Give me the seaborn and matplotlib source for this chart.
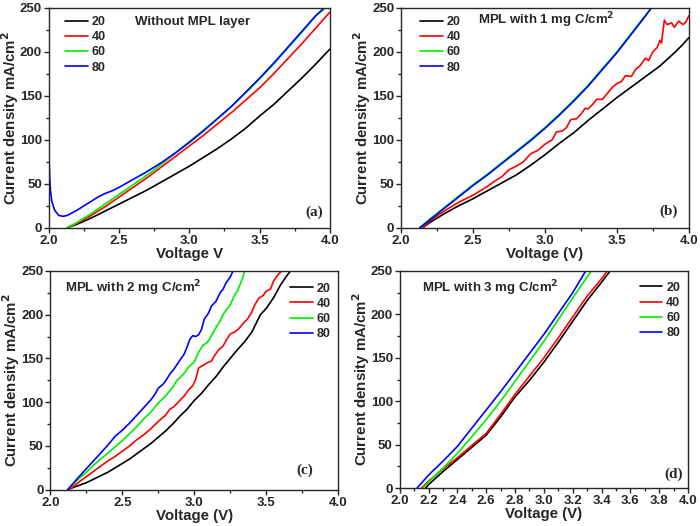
import matplotlib
matplotlib.use("Agg")
import matplotlib.pyplot as plt
import matplotlib.ticker as mticker
import numpy as np
import pandas as pd
import seaborn as sns

# ---------------------------------------------------------------------------
# Data (voltage V, current density mA/cm2)
# ---------------------------------------------------------------------------
series_labels = ["20", "40", "60", "80"]

# (a) without MPL layer
a_v20 = [2.13, 2.2, 2.3, 2.4, 2.5, 2.6, 2.7, 2.8, 2.9, 3.0, 3.1, 3.2, 3.3, 3.4, 3.5, 3.6, 3.7, 3.8, 3.9, 4.0]
a_j20 = [0, 4, 11, 19, 27, 35, 43, 52, 61, 70, 80, 90, 101, 113, 127, 140, 155, 170, 186, 203]
a_v40 = [2.13, 2.2, 2.3, 2.4, 2.5, 2.6, 2.7, 2.8, 2.9, 3.0, 3.1, 3.2, 3.3, 3.4, 3.5, 3.6, 3.7, 3.8, 3.9, 4.0]
a_j40 = [0, 5, 14, 24, 35, 46, 57, 69, 81, 93, 105, 118, 131, 145, 159, 175, 192, 209, 227, 245]
a_v60 = [2.13, 2.2, 2.3, 2.4, 2.5, 2.6, 2.7, 2.8, 2.9, 3.0, 3.1, 3.2, 3.3, 3.4, 3.5, 3.6, 3.7, 3.8, 3.9, 3.97]
a_j60 = [0, 6, 16, 27, 38, 49, 60, 72, 85, 98, 111, 124, 138, 153, 169, 186, 204, 222, 241, 250]
a_v80 = [2.0, 2.005, 2.01, 2.02, 2.04, 2.07, 2.1, 2.13, 2.2, 2.3, 2.35, 2.4, 2.45, 2.5, 2.6, 2.7,
         2.8, 2.9, 3.0, 3.1, 3.2, 3.3, 3.4, 3.5, 3.6, 3.7, 3.8, 3.9, 3.96]
a_j80 = [83, 58, 43, 30, 20, 14, 13, 14, 20, 30, 35, 39, 42, 46, 55, 64,
         74, 85, 97, 110, 124, 138, 154, 170, 187, 205, 223, 241, 250]

# (b) MPL with 1 mg C/cm2
b_v20 = [2.15, 2.2, 2.3, 2.4, 2.5, 2.6, 2.7, 2.8, 2.9, 3.0, 3.1, 3.2, 3.3, 3.4, 3.5, 3.6, 3.7, 3.8, 3.9, 3.95, 4.0]
b_j20 = [0, 6, 16, 25, 33, 42, 51, 60, 71, 83, 96, 108, 122, 135, 148, 160, 172, 184, 199, 207, 216]
b_v40 = [2.15, 2.2, 2.3, 2.4, 2.5, 2.55, 2.6, 2.65, 2.7, 2.75, 2.8, 2.85, 2.9, 2.95, 3.0, 3.05, 3.08,
         3.12, 3.15, 3.18, 3.22, 3.25, 3.28, 3.3, 3.33, 3.36, 3.4, 3.43, 3.47, 3.5, 3.53, 3.56, 3.6,
         3.63, 3.66, 3.7, 3.72, 3.75, 3.78, 3.8, 3.81, 3.83, 3.85, 3.88, 3.9, 3.93, 3.96, 3.98, 4.0]
b_j40 = [0, 8, 19, 29, 37, 42, 47, 53, 58, 66, 70, 75, 84, 88, 95, 100, 109,
         110, 114, 123, 124, 129, 136, 135, 140, 146, 146, 152, 160, 164, 166, 173, 172,
         180, 184, 193, 190, 200, 205, 213, 210, 236, 231, 233, 228, 235, 231, 234, 241]
b_v60 = [2.13, 2.2, 2.3, 2.4, 2.5, 2.6, 2.7, 2.8, 2.9, 3.0, 3.1, 3.2, 3.3, 3.4, 3.5, 3.6, 3.7, 3.74]
b_j60 = [0, 10, 23, 36, 49, 61, 74, 87, 100, 114, 129, 145, 162, 181, 200, 221, 242, 250]
b_v80 = [2.13, 2.2, 2.3, 2.4, 2.5, 2.6, 2.7, 2.8, 2.9, 3.0, 3.1, 3.2, 3.3, 3.4, 3.5, 3.6, 3.7, 3.74]
b_j80 = [0, 9, 22, 35, 48, 60, 73, 86, 99, 113, 128, 144, 161, 180, 199, 220, 241, 250]

# (c) MPL with 2 mg C/cm2
c_v20 = [2.12, 2.15, 2.2, 2.25, 2.3, 2.35, 2.4, 2.45, 2.5, 2.55, 2.6, 2.65, 2.7, 2.75, 2.8, 2.85,
         2.9, 2.95, 3.0, 3.05, 3.1, 3.15, 3.2, 3.25, 3.3, 3.35, 3.4, 3.46, 3.5, 3.55, 3.6, 3.65, 3.67]
c_j20 = [0, 2, 5, 8, 12, 16, 20, 25, 30, 35, 41, 47, 53, 60, 67, 75,
         84, 92, 102, 110, 120, 129, 140, 150, 160, 169, 180, 200, 207, 219, 234, 246, 250]
c_v40 = [2.13, 2.2, 2.25, 2.3, 2.35, 2.4, 2.45, 2.5, 2.55, 2.6, 2.65, 2.7, 2.75, 2.8, 2.83, 2.86,
         2.9, 2.93, 2.96, 2.99, 3.01, 3.03, 3.06, 3.09, 3.12, 3.14, 3.17, 3.2, 3.22, 3.25, 3.28,
         3.31, 3.34, 3.37, 3.4, 3.42, 3.45, 3.48, 3.5, 3.53, 3.55, 3.57, 3.59, 3.61]
c_j40 = [0, 9, 15, 21, 27, 33, 38, 44, 50, 57, 63, 70, 78, 85, 92, 95,
         102, 107, 114, 119, 126, 139, 142, 145, 147, 153, 160, 164, 170, 178, 180,
         184, 190, 195, 203, 211, 219, 222, 227, 229, 238, 243, 247, 250]
c_v60 = [2.12, 2.2, 2.25, 2.3, 2.35, 2.4, 2.45, 2.5, 2.55, 2.6, 2.65, 2.7, 2.75, 2.8, 2.85, 2.88,
         2.9, 2.93, 2.96, 3.0, 3.03, 3.06, 3.09, 3.12, 3.15, 3.18, 3.2, 3.23, 3.25, 3.28, 3.3,
         3.32, 3.34, 3.35]
c_j60 = [0, 13, 20, 28, 35, 42, 49, 56, 64, 72, 81, 89, 99, 107, 117, 125,
         128, 133, 140, 146, 157, 165, 168, 176, 185, 193, 200, 207, 211, 222, 227,
         235, 244, 250]
c_v80 = [2.12, 2.2, 2.25, 2.3, 2.35, 2.4, 2.45, 2.5, 2.55, 2.6, 2.65, 2.7, 2.73, 2.75, 2.78, 2.8,
         2.83, 2.86, 2.9, 2.93, 2.95, 2.97, 2.99, 3.01, 3.03, 3.05, 3.07, 3.1, 3.12, 3.15, 3.18,
         3.2, 3.22, 3.25, 3.27]
c_j80 = [0, 15, 24, 33, 42, 51, 61, 68, 76, 85, 94, 103, 110, 116, 120, 124,
         132, 138, 148, 155, 163, 172, 176, 175, 177, 183, 195, 202, 210, 215, 225,
         229, 236, 243, 250]

# (d) MPL with 3 mg C/cm2
d_v20 = [2.18, 2.2, 2.3, 2.4, 2.5, 2.6, 2.7, 2.8, 2.9, 3.0, 3.1, 3.2, 3.3, 3.4, 3.46]
d_j20 = [0, 4, 19, 33, 47, 61, 82, 105, 124, 145, 168, 192, 216, 237, 250]
d_v40 = [2.15, 2.2, 2.3, 2.4, 2.5, 2.6, 2.7, 2.8, 2.9, 3.0, 3.1, 3.2, 3.3, 3.4, 3.44]
d_j40 = [0, 8, 22, 35, 49, 63, 85, 108, 129, 150, 173, 197, 221, 241, 250]
d_v60 = [2.16, 2.2, 2.3, 2.4, 2.5, 2.6, 2.7, 2.8, 2.9, 3.0, 3.1, 3.2, 3.3, 3.33]
d_j60 = [0, 7, 23, 40, 59, 79, 100, 123, 146, 169, 194, 219, 243, 250]
d_v80 = [2.12, 2.2, 2.3, 2.4, 2.5, 2.6, 2.7, 2.8, 2.9, 3.0, 3.1, 3.2, 3.29]
d_j80 = [0, 15, 31, 48, 69, 90, 111, 133, 155, 177, 201, 225, 250]

panels = [
    dict(v=[a_v20, a_v40, a_v60, a_v80], j=[a_j20, a_j40, a_j60, a_j80],
         note="Without MPL layer", xlabel="Voltage V", tag="(a)"),
    dict(v=[b_v20, b_v40, b_v60, b_v80], j=[b_j20, b_j40, b_j60, b_j80],
         note="MPL with 1 mg C/cm$^\\mathbf{2}$", xlabel="Voltage (V)", tag="(b)"),
    dict(v=[c_v20, c_v40, c_v60, c_v80], j=[c_j20, c_j40, c_j60, c_j80],
         note="MPL with 2 mg C/cm$^\\mathbf{2}$", xlabel="Voltage (V)", tag="(c)"),
    dict(v=[d_v20, d_v40, d_v60, d_v80], j=[d_j20, d_j40, d_j60, d_j80],
         note="MPL with 3 mg C/cm$^\\mathbf{2}$", xlabel="Voltage (V)", tag="(d)"),
]

# ---------------------------------------------------------------------------
# Layout (figure-fraction rectangles, legend / text anchors in axes coords)
# ---------------------------------------------------------------------------
rects = [
    [0.070, 0.567, 0.401, 0.418],
    [0.573, 0.567, 0.411, 0.418],
    [0.072, 0.069, 0.411, 0.416],
    [0.571, 0.072, 0.412, 0.413],
]
legend_xy = [(0.058, 0.962), (0.066, 0.962), (0.834, 0.946), (0.833, 0.950)]
note_xy = [(0.306, 0.936), (0.267, 0.945), (0.052, 0.923), (0.076, 0.922)]
tag_xy = [(0.975, 0.07), (0.962, 0.077), (0.913, 0.09), (0.983, 0.065)]
xlabel_y = [-0.086, -0.086, -0.087, -0.088]
ylabel_x = [-0.100, -0.097, -0.100, -0.097]
x_major = [0.5, 0.5, 0.5, 0.2]

palette = {"20": "#000000", "40": "#ff0000", "60": "#00ee00", "80": "#0000ff"}

sns.set_style("ticks")
plt.rcParams["font.family"] = ["Liberation Sans", "DejaVu Sans"]
plt.rcParams["font.weight"] = "bold"
plt.rcParams["mathtext.default"] = "bf"

fig = plt.figure(figsize=(7.0, 5.26), dpi=100)

for i, p in enumerate(panels):
    ax = fig.add_axes(rects[i])
    frames = []
    for lab, v, j in zip(series_labels, p["v"], p["j"]):
        frames.append(pd.DataFrame({"V": v, "J": j, "s": lab}))
    df = pd.concat(frames, ignore_index=True)
    sns.lineplot(data=df, x="V", y="J", hue="s", palette=palette, sort=False,
                 estimator=None, linewidth=1.2, ax=ax)

    ax.set_xlim(2.0, 4.0)
    ax.set_ylim(0, 250)
    ax.xaxis.set_major_locator(mticker.MultipleLocator(x_major[i]))
    ax.xaxis.set_minor_locator(mticker.MultipleLocator(x_major[i] / 2))
    ax.xaxis.set_major_formatter(mticker.FormatStrFormatter("%.1f"))
    ax.yaxis.set_major_locator(mticker.MultipleLocator(50))
    ax.yaxis.set_minor_locator(mticker.MultipleLocator(25))
    ax.tick_params(which="major", direction="out", length=3.5, width=1, labelsize=9.5, pad=1.5)
    ax.tick_params(which="minor", direction="out", length=2, width=1)
    for lbl in ax.get_xticklabels() + ax.get_yticklabels():
        lbl.set_fontweight("bold")
    for sp in ax.spines.values():
        sp.set_visible(True)
        sp.set_linewidth(1.0)

    ax.set_xlabel(p["xlabel"], fontsize=10.8, fontweight="bold")
    ax.set_ylabel("Current density mA/cm$^\\mathbf{2}$", fontsize=10.8, fontweight="bold")
    ax.xaxis.set_label_coords(0.5, xlabel_y[i])
    ax.yaxis.set_label_coords(ylabel_x[i], 0.5)

    handles, labels = ax.get_legend_handles_labels()
    ax.legend(handles, labels, loc="upper left", bbox_to_anchor=legend_xy[i],
              frameon=False, borderpad=0, borderaxespad=0, handlelength=1.8,
              handletextpad=0.3, labelspacing=0.25,
              prop={"size": 9, "weight": "bold"})

    ax.text(note_xy[i][0], note_xy[i][1], p["note"], transform=ax.transAxes,
            ha="left", va="center", fontsize=9.5, fontweight="bold")
    ax.text(tag_xy[i][0], tag_xy[i][1], p["tag"], transform=ax.transAxes,
            ha="right", va="center", fontsize=11, fontweight="bold",
            family=["Liberation Serif", "DejaVu Serif"])

fig.savefig("out.png", dpi=100)
